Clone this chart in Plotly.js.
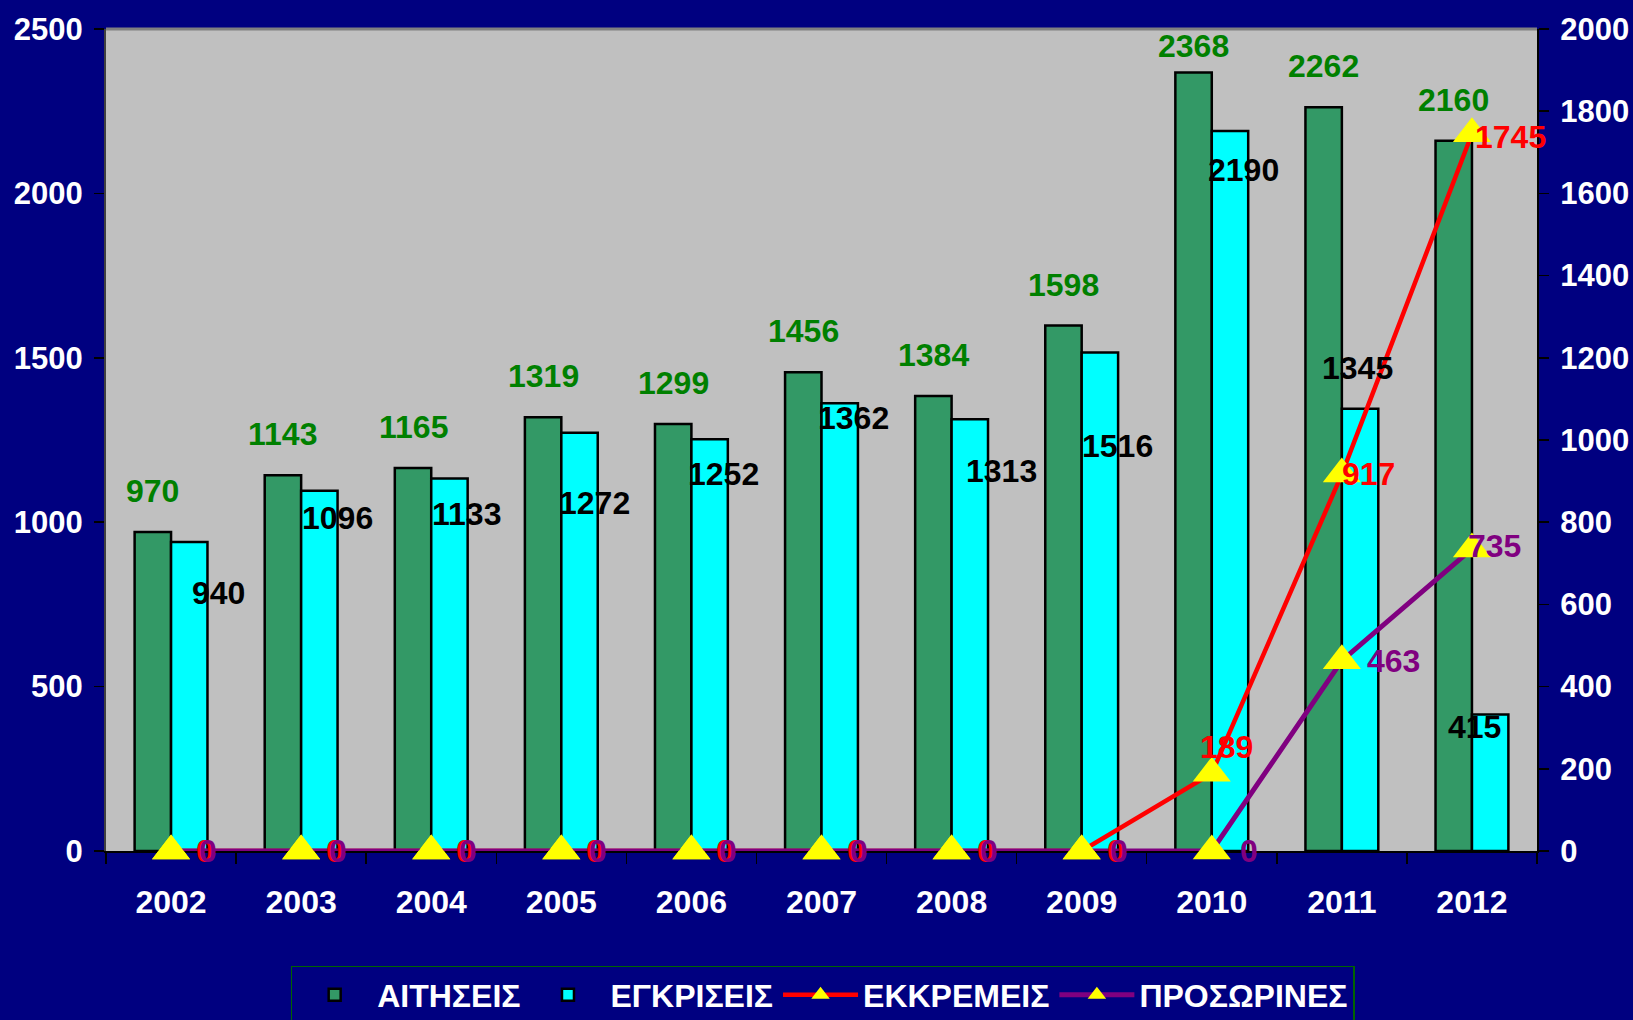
<!DOCTYPE html>
<html>
<head>
<meta charset="utf-8">
<script src="https://cdn.plot.ly/plotly-3.0.1.min.js"></script>
<style>
html,body{margin:0;padding:0;background:#000080;}
#chart{width:1633px;height:1020px;}
</style>
</head>
<body>
<div id="chart"></div>
<script>
// ---- data ----
const years = ['2002','2003','2004','2005','2006','2007','2008','2009','2010','2011','2012'];
const aitiseis = [970, 1143, 1165, 1319, 1299, 1456, 1384, 1598, 2368, 2262, 2160];
const egkriseis = [940, 1096, 1133, 1272, 1252, 1362, 1313, 1516, 2190, 1345, 415];
const ekkremeis = [0, 0, 0, 0, 0, 0, 0, 0, 189, 917, 1745];
const prosorines = [0, 0, 0, 0, 0, 0, 0, 0, 0, 463, 735];
const names = ['ΑΙΤΗΣΕΙΣ', 'ΕΓΚΡΙΣΕΙΣ', 'ΕΚΚΡΕΜΕΙΣ', 'ΠΡΟΣΩΡΙΝΕΣ'];

// ---- label placement (pixels) ----
const greenDy = [41,41,41,41,41,41,41,41,26,41,41];
const blackDx = [29,18,17,15,14,14,32,18,14,-3,-16];
const blackDy = [-51,-27,-36,-70,-35,-15,-52,-93,-39,41,-12];
const redDx = [34,34,34,34,34,34,34,34,15,27,39];
const redDy = [0,0,0,0,0,0,0,0,26,0,-3];
const purpDx = [37,37,37,37,37,37,37,37,37,52,23];
const purpDy = [0,0,0,0,0,0,0,0,0,0,3];

const FONT = '"Liberation Sans", Arial, sans-serif';
const FS = 32;
const halfBar = 18.2;

const traces = [
  {type:'bar', name:names[0], x:years, y:aitiseis, yaxis:'y',
   marker:{color:'#339966', line:{color:'#000000', width:2.5}}},
  {type:'bar', name:names[1], x:years, y:egkriseis, yaxis:'y',
   marker:{color:'#00FFFF', line:{color:'#000000', width:2.5}}},
  {type:'scatter', mode:'lines+markers', name:names[2], x:years, y:ekkremeis, yaxis:'y2',
   line:{color:'#FF0000', width:4.5},
   marker:{symbol:'triangle-up', size:33, color:'#FFFF00'}, cliponaxis:false},
  {type:'scatter', mode:'lines+markers', name:names[3], x:years, y:prosorines, yaxis:'y2',
   line:{color:'#800080', width:5},
   marker:{symbol:'triangle-up', size:33, color:'#FFFF00'}, cliponaxis:false}
];

const ann = [];
years.forEach((yr, i) => {
  ann.push({x:i, y:aitiseis[i], xref:'x', yref:'y', text:String(aitiseis[i]), showarrow:false,
    xshift:-halfBar, yshift:greenDy[i], font:{family:FONT, size:FS, color:'#008000', weight:'bold'}});
  ann.push({x:i, y:egkriseis[i], xref:'x', yref:'y', text:String(egkriseis[i]), showarrow:false,
    xshift:halfBar + blackDx[i], yshift:blackDy[i], font:{family:FONT, size:FS, color:'#000000', weight:'bold'}});
  ann.push({x:i, y:ekkremeis[i], xref:'x', yref:'y2', text:String(ekkremeis[i]), showarrow:false,
    xshift:redDx[i], yshift:redDy[i], font:{family:FONT, size:FS, color:'#FF0000', weight:'bold'}});
  ann.push({x:i, y:prosorines[i], xref:'x', yref:'y2', text:String(prosorines[i]), showarrow:false,
    xshift:purpDx[i], yshift:purpDy[i], font:{family:FONT, size:FS, color:'#800080', weight:'bold'}});
});

const tickFont = {family:FONT, size:31, color:'#FFFFFF', weight:'bold'};

const layout = {
  width:1633, height:1020,
  paper_bgcolor:'#000080', plot_bgcolor:'#C0C0C0',
  margin:{l:106, r:96, t:29, b:169},
  barmode:'group', bargap:0.44, bargroupgap:0,
  showlegend:true,
  legend:{orientation:'h', xref:'container', yref:'container', x:0.178, y:0.053,
    xanchor:'left', yanchor:'top', bgcolor:'#000080', bordercolor:'#006400', borderwidth:1.5,
    font:{family:FONT, size:FS, color:'#FFFFFF', weight:'bold'}, itemwidth:75, traceorder:'normal'},
  xaxis:{type:'category', range:[-0.5, 10.5], tickangle:0, tickfont:{family:FONT, size:FS, color:'#FFFFFF', weight:'bold'},
    showline:true, linecolor:'#000000', linewidth:2, layer:'below traces',
    ticks:'outside', tickson:'boundaries', ticklen:11, tickcolor:'#000000', tickwidth:1.5,
    ticklabelstandoff:22, showgrid:false, zeroline:false},
  yaxis:{range:[0,2500], dtick:500, tickfont:tickFont, showline:true, linecolor:'#404040', linewidth:2,
    ticks:'outside', ticklen:10, tickcolor:'#000000', tickwidth:1.5, ticklabelstandoff:5,
    showgrid:false, zeroline:false},
  yaxis2:{range:[0,2000], dtick:200, overlaying:'y', side:'right', tickfont:tickFont,
    showline:true, linecolor:'#000000', linewidth:2,
    ticks:'outside', ticklen:10, tickcolor:'#000000', tickwidth:1.5, ticklabelstandoff:5,
    showgrid:false, zeroline:false},
  shapes:[{type:'line', xref:'paper', yref:'paper', x0:0, x1:1, y0:1, y1:1,
    line:{color:'#808080', width:3}}],
  annotations:ann
};

Plotly.newPlot('chart', traces, layout, {displayModeBar:false, staticPlot:true});
</script>
</body>
</html>
